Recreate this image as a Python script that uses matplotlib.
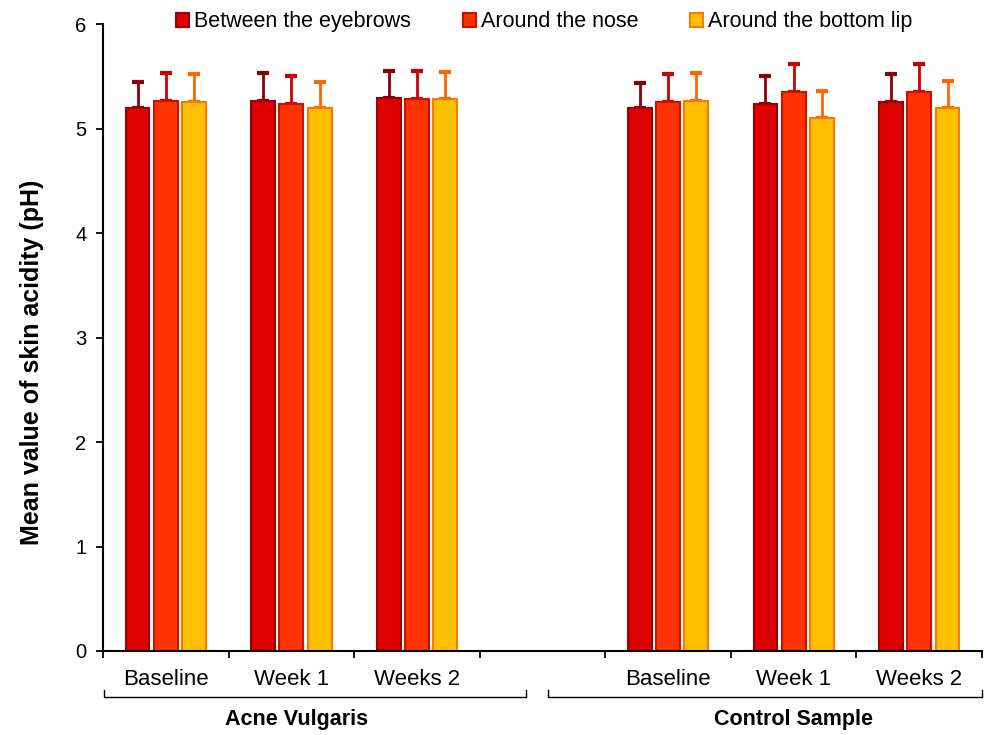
import matplotlib
matplotlib.use("Agg")
import matplotlib.pyplot as plt
from matplotlib.patches import Patch
import matplotlib.transforms as mtransforms
import numpy as np

plt.rcParams['font.family'] = ['Liberation Sans', 'DejaVu Sans']

tick_labels = ['Baseline', 'Week 1', 'Weeks 2', '', 'Baseline', 'Week 1', 'Weeks 2']
groups = ['Acne Vulgaris', 'Control Sample']
series = ['Between the eyebrows', 'Around the nose', 'Around the bottom lip']

# values per series: Acne (Baseline, Week1, Weeks2), Control (Baseline, Week1, Weeks2)
eyebrows = [5.20, 5.27, 5.29, 5.20, 5.24, 5.26]
nose = [5.27, 5.24, 5.28, 5.26, 5.35, 5.35]
lip = [5.26, 5.20, 5.28, 5.27, 5.10, 5.20]
eyebrows_err = [0.25, 0.26, 0.26, 0.24, 0.26, 0.26]
nose_err = [0.26, 0.26, 0.27, 0.26, 0.27, 0.27]
lip_err = [0.26, 0.25, 0.26, 0.26, 0.26, 0.26]

values = [eyebrows, nose, lip]
errors = [eyebrows_err, nose_err, lip_err]
face = ['#DD0000', '#FF3300', '#FFC000']
edge = ['#990000', '#CC1100', '#FF7700']
errc = ['#8B0000', '#CC0000', '#FF6600']

fig = plt.figure(figsize=(9.86, 7.35), dpi=100)
ax = fig.add_axes([0.1045, 0.1143, 0.8915, 0.8527])

xpos = np.array([0, 1, 2, 4, 5, 6])
w = 0.19
step = 0.225
for k in range(3):
    xs = xpos + (k - 1) * step
    ax.bar(xs, values[k], width=w, color=face[k], edgecolor=edge[k], linewidth=1.5, zorder=2)
    ax.errorbar(xs, values[k], yerr=[np.zeros(len(xs)), errors[k]], fmt='none',
                ecolor=errc[k], elinewidth=2, capsize=4, capthick=3, zorder=1)

ax.set_xlim(-0.5, 6.5)
ax.set_ylim(0, 6)
ax.set_yticks(range(0, 7))
ax.tick_params(axis='y', labelsize=14.5, direction='out', length=5, width=1.3, pad=7)
ax.set_xticks(np.arange(-0.5, 7.0, 1.0))
ax.set_xticklabels([])
ax.set_xticks(np.arange(7), minor=True)
ax.set_xticklabels(tick_labels, minor=True, fontsize=16)
ax.tick_params(axis='x', which='minor', length=0, pad=13)
ax.tick_params(axis='x', which='major', direction='out', length=5, width=1.3)
for s in ['top', 'right']:
    ax.spines[s].set_visible(False)
for s in ['left', 'bottom']:
    ax.spines[s].set_linewidth(1.5)

ax.set_ylabel('Mean value of skin acidity (pH)', fontsize=18, fontweight='bold')
ax.yaxis.set_label_coords(-0.067, 0.461)

trans = mtransforms.blended_transform_factory(ax.transData, ax.transAxes)
brackets = [(-0.49, 2.87), (3.04, 6.5)]
label_x = [1.04, 5.0]
for (x0, x1), g, lx in zip(brackets, groups, label_x):
    ax.plot([x0, x0, x1, x1], [-0.062, -0.073, -0.073, -0.062], color='black',
            lw=1.0, transform=trans, clip_on=False)
    ax.text(lx, -0.110, g, transform=trans,
            ha='center', va='center', fontsize=15.5, fontweight='bold')

handles = [Patch(facecolor=face[k], edgecolor=edge[k], linewidth=1.5) for k in range(3)]
fig.legend(handles, series, loc='upper center', bbox_to_anchor=(0.552, 1.011), ncol=3,
           frameon=False, prop={'size': 15.5},
           handlelength=0.6, handleheight=0.6, handletextpad=0.25, columnspacing=2.4)

fig.savefig('out.png', dpi=100)
